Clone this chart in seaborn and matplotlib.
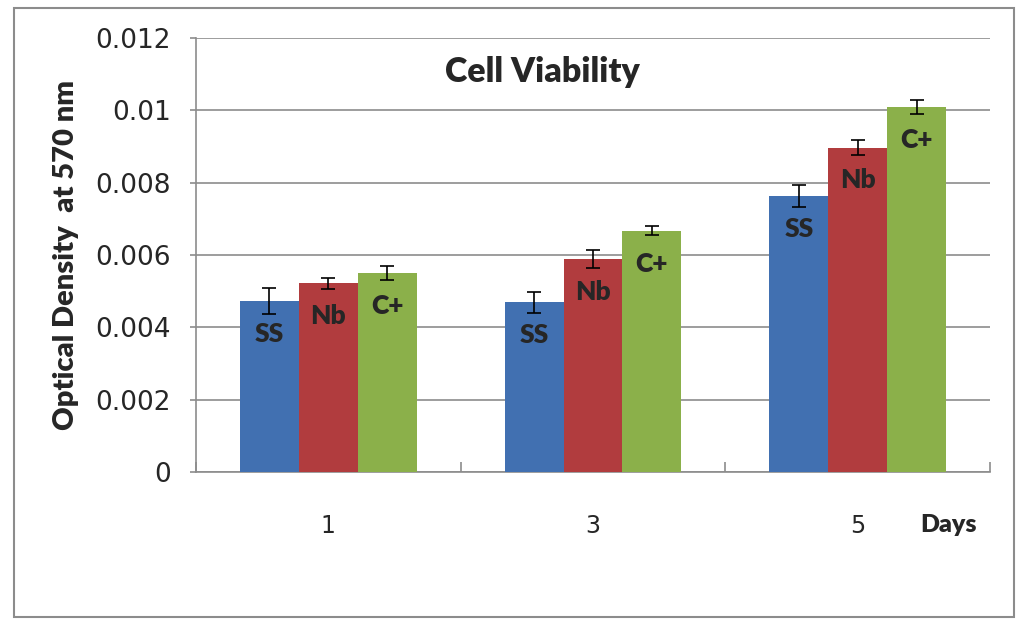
import pandas as pd
import matplotlib.pyplot as plt
import seaborn as sns
from matplotlib.patches import Rectangle

days = ['1', '3', '5']
materials = ['SS', 'Nb', 'C+']
ss_values = [0.00473, 0.00469, 0.00763]
nb_values = [0.00522, 0.00589, 0.00897]
cp_values = [0.00550, 0.00667, 0.01009]
ss_err = [0.00037, 0.00028, 0.00031]
nb_err = [0.00015, 0.00025, 0.00020]
cp_err = [0.00020, 0.00012, 0.00020]

colors = ['#4170b1', '#b13c3e', '#8bb04a']

rows = []
for mat, vals, errs in zip(materials, [ss_values, nb_values, cp_values], [ss_err, nb_err, cp_err]):
    for d, v, e in zip(days, vals, errs):
        rows.append({'Day': d, 'Material': mat, 'OD': v, 'err': e})
df = pd.DataFrame(rows)

sns.set_style('white')
plt.rcParams['font.family'] = ['DejaVu Sans']

fig = plt.figure(figsize=(10.24, 6.29), dpi=100)
ax = fig.add_axes([0.1914, 0.2496, 0.7754, 0.69])

sns.barplot(data=df, x='Day', y='OD', hue='Material', order=days, hue_order=materials,
            palette=colors, width=0.667, gap=0, errorbar=None, linewidth=0,
            saturation=1, legend=False, ax=ax, zorder=3)

# error bars and in-bar labels
for container, mat in zip(ax.containers, materials):
    sub = df[df['Material'] == mat].set_index('Day').loc[days]
    xs = [p.get_x() + p.get_width() / 2 for p in container.patches]
    ax.errorbar(xs, sub['OD'], yerr=sub['err'], fmt='none', ecolor='black',
                elinewidth=1.2, capsize=5, capthick=1.2, zorder=4)
    for x, v in zip(xs, sub['OD']):
        ax.annotate(mat, xy=(x, v), xytext=(0, -15), textcoords='offset points',
                    ha='center', va='top', fontsize=19, fontweight='heavy',
                    family='Lato', zorder=5)

ax.set_ylim(0, 0.012)
ax.set_yticks([0, 0.002, 0.004, 0.006, 0.008, 0.01, 0.012])
ax.set_yticklabels(['0', '0.002', '0.004', '0.006', '0.008', '0.01', '0.012'])
ax.set_xlim(-0.5, 2.5)
ax.yaxis.grid(True, color='#8c8c8c', linewidth=1.2, zorder=0)
ax.set_axisbelow(True)

for side in ['top', 'right']:
    ax.spines[side].set_visible(False)
for side in ['left', 'bottom']:
    ax.spines[side].set_color('#8c8c8c')
    ax.spines[side].set_linewidth(1.2)

ax.tick_params(axis='y', which='major', labelsize=19, length=4, width=1.2,
               color='#8c8c8c', pad=14, left=True)
ax.tick_params(axis='x', which='major', labelsize=17, length=0, pad=30)
ax.set_xticks([-0.5, 0.5, 1.5, 2.5], minor=True)
ax.tick_params(axis='x', which='minor', direction='in', length=7, width=1.2,
               color='#8c8c8c', bottom=True)

ax.set_xlabel('')
ax.set_ylabel('Optical Density  at 570 nm', fontsize=21, fontweight='heavy',
              family='Lato', labelpad=12)

fig.text(0.530, 0.885, 'Cell Viability', ha='center', va='center', fontsize=24.5,
         fontweight='heavy', family='Lato')
fig.text(0.926, 0.165, 'Days', ha='center', va='center', fontsize=18,
         fontweight='heavy', family='Lato')

fig.patches.append(Rectangle((0.0137, 0.019), 0.977, 0.969, transform=fig.transFigure,
                             fill=False, edgecolor='#8c8c8c', linewidth=1.5))

fig.savefig('out.png', dpi=100)
